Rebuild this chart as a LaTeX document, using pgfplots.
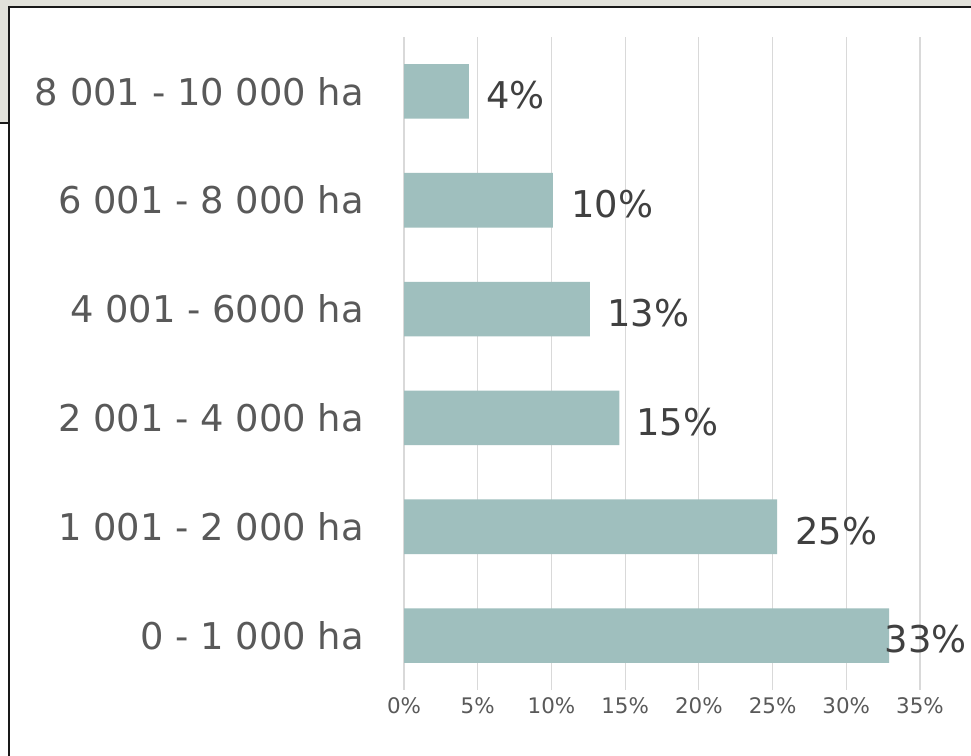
\documentclass[border=0pt]{standalone}
\usepackage{pgfplots}
\pgfplotsset{compat=1.18}
\usepackage{fontspec}
\setmainfont{DejaVu Sans}
\definecolor{bgbeige}{RGB}{226,226,219}
\definecolor{barc}{RGB}{159,191,190}
\definecolor{catc}{RGB}{89,89,89}
\definecolor{labc}{RGB}{64,64,64}
\definecolor{gridc}{RGB}{217,217,217}
\begin{document}
\begin{tikzpicture}[x=1bp,y=1bp]
\useasboundingbox (0,0) rectangle (971,756);
\fill[bgbeige] (0,0) rectangle (971,756);
\fill[white] (8,0) rectangle (971,749);
\fill[white] (0,0) rectangle (8,633);
\draw[black!90, line width=2bp] (8.5,0) -- (8.5,748.5) -- (971,748.5);
\draw[black!90, line width=1.6bp] (0,633) -- (8.5,633);
\begin{axis}[
  at={(404bp,66bp)}, anchor=south west,
  scale only axis, width=516bp, height=653bp,
  xmin=0, xmax=35, ymin=-0.5, ymax=5.5,
  clip=false,
  axis line style={draw=none},
  major tick length=0pt,
  xmajorgrids, grid style={draw=gridc, line width=1.2bp},
  xtick={0,5,10,15,20,25,30,35},
  xticklabels={0\%,5\%,10\%,15\%,20\%,25\%,30\%,35\%},
  ytick={0,1,2,3,4,5},
  yticklabels={0 - 1 000 ha, 1 001 - 2 000 ha, 2 001 - 4 000 ha, 4 001 - 6000 ha, 6 001 - 8 000 ha, 8 001 - 10 000 ha},
  xticklabel style={font=\fontsize{21.5}{24}\selectfont, text=catc, yshift=-4bp},
  yticklabel style={font=\fontsize{37}{40}\selectfont, text=catc, anchor=east, inner sep=0pt, xshift=-40bp},
]
\addplot[xbar, bar width=54.6bp, fill=barc, draw=none] coordinates {
  (32.9,0) (25.3,1) (14.6,2) (12.6,3) (10.1,4) (4.4,5)
};
\addplot[draw=none, mark=none, nodes near coords, point meta=explicit symbolic,
  nodes near coords style={anchor=west, inner sep=0pt, text=labc, font=\fontsize{37}{40}\selectfont, yshift=-4bp}]
  coordinates {
  (32.6,0) [33\%]
  (26.52,1) [25\%]
  (15.74,2) [15\%]
  (13.77,3) [13\%]
  (11.33,4) [10\%]
  (5.56,5) [4\%]
};
\end{axis}
\end{tikzpicture}
\end{document}
